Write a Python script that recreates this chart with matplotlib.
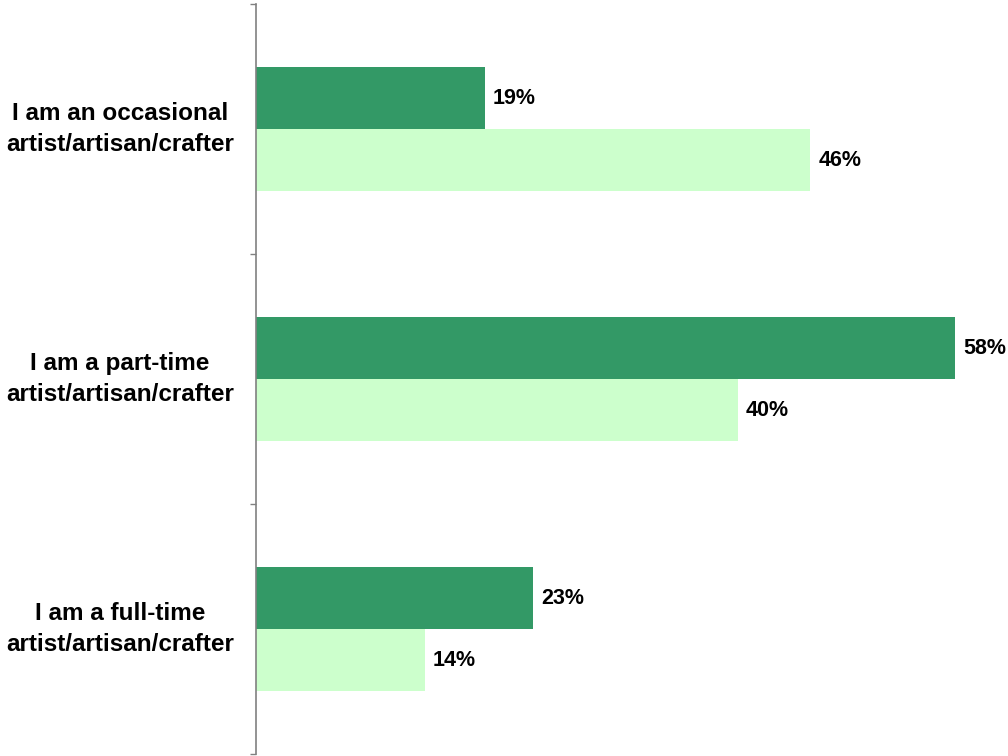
import numpy as np
import matplotlib.pyplot as plt
from matplotlib.transforms import blended_transform_factory

plt.rcParams['font.family'] = ['Liberation Sans', 'DejaVu Sans']

# Survey answers, top to bottom
categories = [
    "I am an occasional\nartist/artisan/crafter",
    "I am a part-time\nartist/artisan/crafter",
    "I am a full-time\nartist/artisan/crafter",
]
series_dark = [19, 58, 23]
series_light = [46, 40, 14]

dark_color = '#339966'
light_color = '#CCFFCC'
axis_gray = '#808080'

fig = plt.figure(figsize=(10.08, 7.56), dpi=100)
ax = fig.add_axes([256 / 1008, 2 / 756, 750 / 1008, 750 / 756])

n = len(categories)
centers = np.arange(n)[::-1] + 0.5
bar_h = 0.248

ax.barh(centers + bar_h / 2, series_dark, height=bar_h, color=dark_color, linewidth=0)
ax.barh(centers - bar_h / 2, series_light, height=bar_h, color=light_color, linewidth=0)

for y, v in zip(centers + bar_h / 2, series_dark):
    ax.annotate(f"{v}%", (v, y), xytext=(8, 0), textcoords='offset pixels',
                va='center', ha='left', fontsize=15.5, fontweight='bold')
for y, v in zip(centers - bar_h / 2, series_light):
    ax.annotate(f"{v}%", (v, y), xytext=(8, 0), textcoords='offset pixels',
                va='center', ha='left', fontsize=15.5, fontweight='bold')

ax.set_xlim(0, 750 / 12.05)
ax.set_ylim(0, n)

# category boundaries get the tick marks, labels sit in the middle
ax.set_yticks(np.arange(n + 1))
ax.set_yticklabels([])
ax.tick_params(axis='y', direction='out', length=4.5, width=1, color=axis_gray)
ax.set_xticks([])

for s in ['top', 'right', 'bottom']:
    ax.spines[s].set_visible(False)
ax.spines['left'].set_color(axis_gray)
ax.spines['left'].set_linewidth(1.2)

label_tf = blended_transform_factory(fig.transFigure, ax.transData)
for y, label in zip(centers, categories):
    ax.text(120 / 1008, y, label, transform=label_tf,
            ha='center', va='center', multialignment='center',
            fontsize=17.5, fontweight='bold', linespacing=1.4)

fig.savefig('out.png', dpi=100)
